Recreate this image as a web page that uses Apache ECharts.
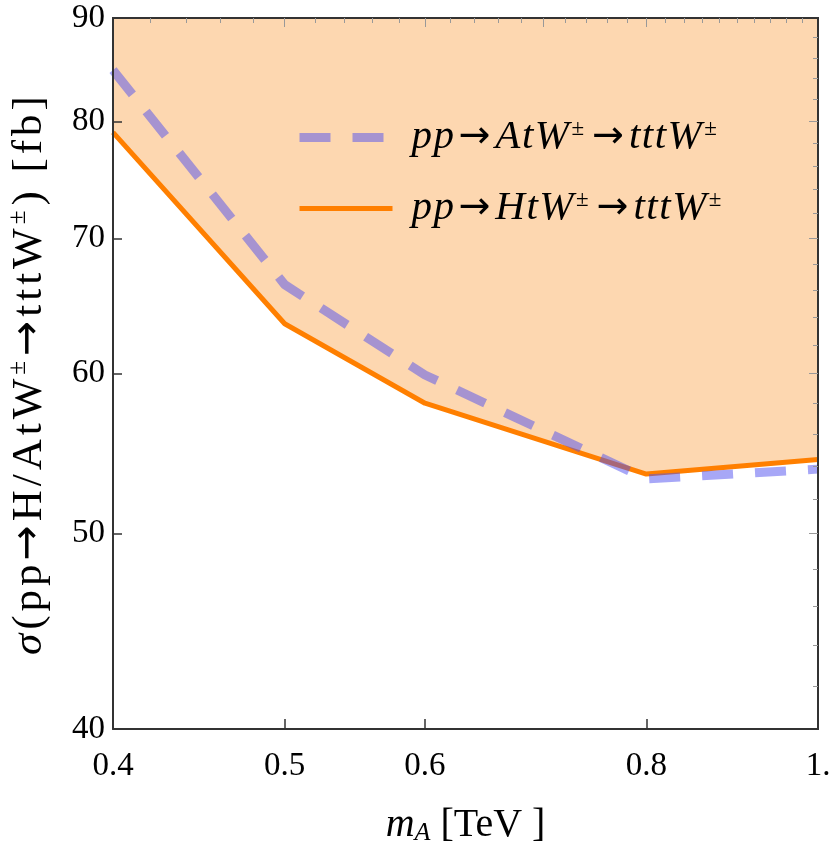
<!DOCTYPE html>
<html>
<head>
<meta charset="utf-8">
<script src="https://cdn.jsdelivr.net/npm/echarts@6/dist/echarts.min.js"></script>
<style>
  html, body { margin: 0; padding: 0; background: #fff; }
  #chart { width: 830px; height: 856px; }
</style>
</head>
<body>
<div id="chart"></div>
<script>
// data (log-log plot)
const massA = [0.4, 0.5, 0.6, 0.8, 1.0];
const sigmaA = [84.8, 66.4, 59.9, 53.2, 53.8];   // pp -> A t W -> tttW (dashed)
const sigmaH = [79.0, 63.5, 58.0, 53.5, 54.4];   // pp -> H t W -> tttW (solid)

const xLabels = [0.4, 0.5, 0.6, 0.8, 1.0];
const xMajorTicks = [0.5, 0.6, 0.8];
const xTopMajor = [0.5, 0.6, 0.7, 0.8];
const xTopMinor = [0.42, 0.44, 0.46, 0.48, 0.52, 0.54, 0.56, 0.58, 0.62, 0.64, 0.66, 0.68,
                   0.72, 0.74, 0.76, 0.78, 0.82, 0.84, 0.86, 0.88, 0.9, 0.92, 0.94, 0.96, 0.98];
const yLabels = [40, 50, 60, 70, 80, 90];
const yMajorTicks = [50, 60, 70, 80];
const yRightMinor = [42, 44, 46, 48, 52, 54, 56, 58, 62, 64, 66, 68, 72, 74, 76, 78, 82, 84, 86, 88];

const nameA = 'pp→AtW±→tttW±';
const nameH = 'pp→HtW±→tttW±';

const serif = '"Liberation Serif", "DejaVu Serif", serif';
const arrowFont = '"DejaVu Sans", sans-serif';
const frame = '#333';

function pairs(xs, ys) {
    return xs.map((x, i) => [x, ys[i]]);
}

// one rich token per character so we can open up the letter spacing (TeX-like)
function spaced(str, style) {
    return str.split('').map(c => '{' + style + '|' + c + '}').join('');
}

let chart = echarts.init(document.getElementById('chart'));

let baseX = {
    type: 'log',
    min: 0.4,
    max: 1.0,
    z: 5,
    splitLine: { show: false },
    axisLine: { show: true, lineStyle: { color: frame, width: 2 } }
};
let baseY = {
    type: 'log',
    min: 40,
    max: 90,
    z: 5,
    splitLine: { show: false },
    axisLine: { show: true, lineStyle: { color: frame, width: 2 } }
};

let option = {
    animation: false,
    grid: { left: 113, right: 12, top: 18, bottom: 127, outerBoundsMode: 'none' },
    legend: {
        orient: 'vertical',
        left: 290,
        top: 112,
        itemWidth: 93,
        itemHeight: 30,
        itemGap: 30,
        data: [nameA, nameH],
        itemStyle: { opacity: 0 },
        lineStyle: { width: 'inherit', type: 'inherit' },
        formatter: function (name) {
            let core = name === nameA ? 'AtW' : 'HtW';
            return spaced('pp', 'm') + '{a|→}' + spaced(core, 'm') + '{s|±}{a|→}' + spaced('tttW', 'm') + '{s|±}';
        },
        textStyle: {
            padding: [0, 0, 0, 14],
            rich: {
                m: { fontFamily: serif, fontStyle: 'italic', fontSize: 41, color: '#000', padding: [0, 1.5, 0, 0] },
                a: { fontFamily: arrowFont, fontSize: 38, color: '#000', padding: [0, 5, 0, 3] },
                s: { fontFamily: serif, fontSize: 23, color: '#000', padding: [0, 5, 18, 1] }
            }
        }
    },
    xAxis: [
        Object.assign({}, baseX, {
            position: 'bottom',
            name: '{i|m}{sub|A}{r| [TeV ]}',
            nameLocation: 'middle',
            nameGap: 75,
            nameTextStyle: {
                rich: {
                    i: { fontFamily: serif, fontStyle: 'italic', fontSize: 40, color: '#000' },
                    sub: { fontFamily: serif, fontStyle: 'italic', fontSize: 26, color: '#000', padding: [16, 0, 0, 0] },
                    r: { fontFamily: serif, fontSize: 40, color: '#000' }
                }
            },
            axisTick: { inside: true, length: 10, customValues: xMajorTicks, lineStyle: { color: frame, width: 1.5 } },
            axisLabel: {
                customValues: xLabels,
                margin: 21,
                fontFamily: serif,
                fontSize: 33,
                color: '#000',
                formatter: function (v) { return v >= 0.999 ? '1.' : String(Math.round(v * 10) / 10); }
            }
        }),
        Object.assign({}, baseX, {
            position: 'top',
            axisTick: { inside: true, length: 5, customValues: xTopMinor, lineStyle: { color: '#999', width: 1 } },
            axisLabel: { show: false }
        }),
        Object.assign({}, baseX, {
            position: 'top',
            axisTick: { inside: true, length: 9, customValues: xTopMajor, lineStyle: { color: '#999', width: 1 } },
            axisLabel: { show: false }
        })
    ],
    yAxis: [
        Object.assign({}, baseY, {
            position: 'left',
            name: '{g|σ}' + spaced('(pp', 'r') + '{a|→}' + spaced('H/AtW', 'r') + '{s|±}{a|→}' +
                  spaced('tttW', 'r') + '{s|±}' + spaced(') [fb]', 'r'),
            nameLocation: 'middle',
            nameRotate: 90,
            nameGap: 60,
            nameTextStyle: {
                rich: {
                    g: { fontFamily: serif, fontStyle: 'italic', fontSize: 43, color: '#000', padding: [0, 4, 0, 0] },
                    r: { fontFamily: serif, fontSize: 43, color: '#000', padding: [0, 4, 0, 0] },
                    a: { fontFamily: arrowFont, fontSize: 42, color: '#000', padding: [0, 4, 0, 0] },
                    s: { fontFamily: serif, fontSize: 25, color: '#000', padding: [0, 5, 22, 0] }
                }
            },
            axisTick: { inside: true, length: 9, customValues: yMajorTicks, lineStyle: { color: frame, width: 1.5 } },
            axisLabel: {
                customValues: yLabels,
                margin: 8,
                fontFamily: serif,
                fontSize: 33,
                color: '#000'
            }
        }),
        Object.assign({}, baseY, {
            position: 'right',
            axisTick: { inside: true, length: 5, customValues: yRightMinor, lineStyle: { color: '#999', width: 1 } },
            axisLabel: { show: false }
        }),
        Object.assign({}, baseY, {
            position: 'right',
            axisTick: { inside: true, length: 9, customValues: yMajorTicks, lineStyle: { color: '#999', width: 1 } },
            axisLabel: { show: false }
        })
    ],
    series: [
        {
            name: nameH,
            type: 'line',
            xAxisIndex: 0,
            yAxisIndex: 0,
            data: pairs(massA, sigmaH),
            showSymbol: false,
            symbol: 'none',
            lineStyle: { color: '#ff7f00', width: 5 },
            itemStyle: { color: '#ff7f00' },
            areaStyle: { origin: 'end', color: 'rgba(253, 215, 176, 1)', opacity: 1 },
            z: 2
        },
        {
            name: nameA,
            type: 'line',
            xAxisIndex: 0,
            yAxisIndex: 0,
            data: pairs(massA, sigmaA),
            showSymbol: false,
            symbol: 'none',
            lineStyle: { color: 'rgba(80, 80, 240, 0.5)', width: 9, type: [31, 22] },
            itemStyle: { color: 'rgba(80, 80, 240, 0.5)' },
            z: 3
        }
    ]
};
chart.setOption(option);
</script>
</body>
</html>
